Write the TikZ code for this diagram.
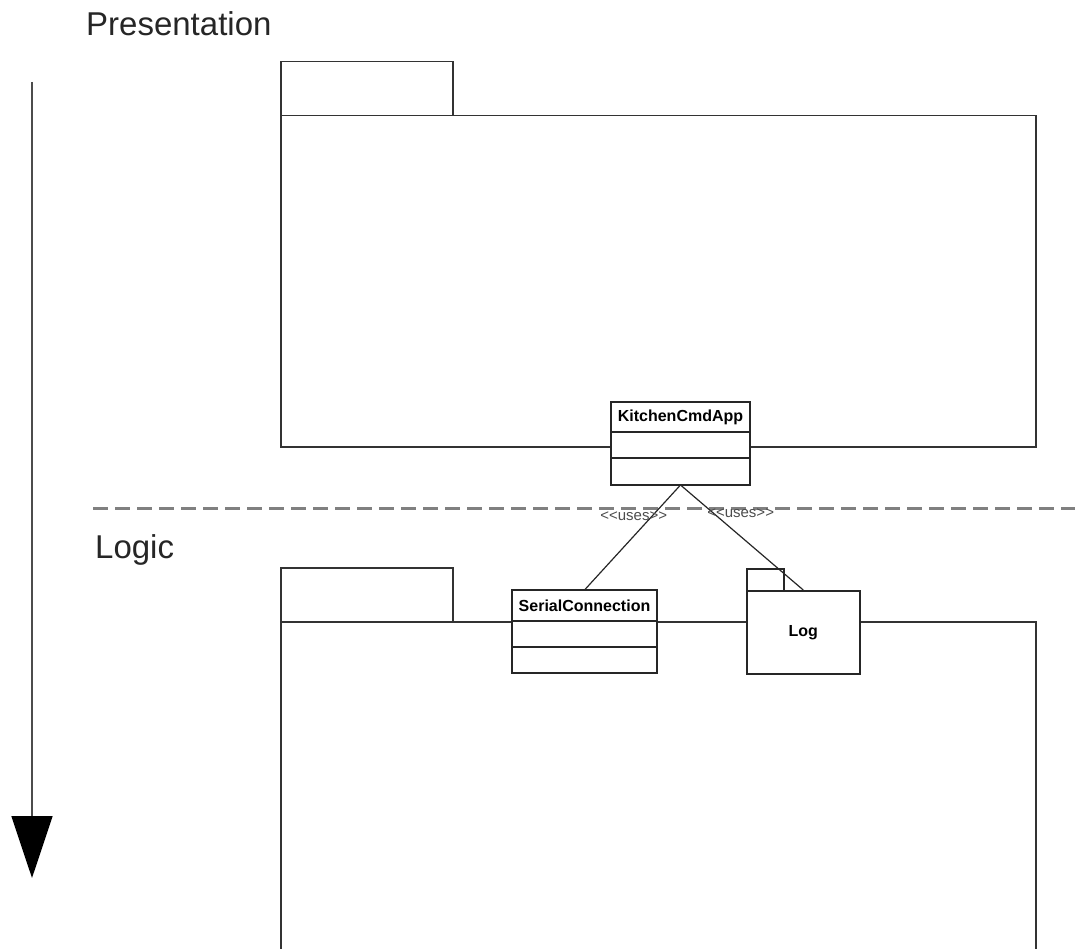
\documentclass[tikz,border=0pt]{standalone}
\usepackage{fontspec}
\setmainfont{Liberation Sans}
\usetikzlibrary{arrows.meta, positioning}

\begin{document}
\begin{tikzpicture}[
    x=1pt, y=-1pt,
    layer/.style={inner sep=0pt, font=\fontsize{33}{38}\selectfont, text=black!85},
    pkgtab/.style={rectangle, draw=black!80, line width=1.5pt, fill=white, anchor=north west, inner sep=0pt, minimum width=172pt, minimum height=54pt},
    pkgbody/.style={rectangle, draw=black!80, line width=1.5pt, fill=white, anchor=north west, inner sep=0pt, minimum width=755pt},
    clsname/.style={rectangle, draw=black!85, line width=1.5pt, fill=white, inner sep=0pt, outer sep=0pt, minimum height=30pt, font=\fontsize{16}{19}\selectfont\bfseries},
    clspart/.style={rectangle, draw=black!85, line width=1.5pt, fill=white, inner sep=0pt, outer sep=0pt, minimum height=26pt},
    uses/.style={inner sep=0pt, font=\fontsize{15}{18}\selectfont, text=black!70},
    link/.style={draw=black!85, line width=1.2pt}
]
    \useasboundingbox (0,0) rectangle (1075,949);

    % layer arrow on the left
    \coordinate (flowTop) at (32,82);
    \coordinate (flowEnd) at (32,878);
    \draw[black!70, line width=1.5pt, -{Triangle[length=62pt, width=41pt, color=black]}] (flowTop) -- (flowEnd);

    \node[layer, anchor=base west] (presLabel) at (86,36) {Presentation};
    \node[layer, anchor=base west] (logicLabel) at (95,558) {Logic};

    % layer boundary
    \coordinate (bndL) at (93,508);
    \coordinate (bndR) at (1075,508);
    \draw[black!50, line width=3pt, dash pattern=on 15pt off 7pt] (bndL) -- (bndR);

    % presentation package
    \node[pkgtab] (presTab) at (280,61) {};
    \node[pkgbody, minimum height=331pt] (presBody) at (280,115) {};

    % logic package
    \node[pkgtab] (logicTab) at (280,567) {};
    \node[pkgbody, minimum height=345pt] (logicBody) at (280,621) {};

    % KitchenCmdApp class
    \node[clsname, minimum width=139pt, anchor=north west] (kca) at (611,402) {KitchenCmdApp};
    \node[clspart, minimum width=139pt, below=0pt of kca] (kcaAttr) {};
    \node[clspart, minimum width=139pt, minimum height=27pt, below=0pt of kcaAttr] (kcaOps) {};

    % SerialConnection class
    \node[clsname, minimum width=145pt, minimum height=31pt, anchor=north west] (serial) at (512,590) {SerialConnection};
    \node[clspart, minimum width=145pt, below=0pt of serial] (serialAttr) {};
    \node[clspart, minimum width=145pt, below=0pt of serialAttr] (serialOps) {};

    % Log package
    \node[pkgtab, draw=black!85, minimum width=37pt, minimum height=22pt] (logTab) at (746,568) {};
    \node[pkgbody, draw=black!85, minimum width=113pt, minimum height=83pt, font=\fontsize{16}{19}\selectfont\bfseries] (log) at (746,590) {Log};

    % dependencies
    \draw[link] (kcaOps.south) -- node[uses, pos=0.3, xshift=-18pt] {<\kern0pt<uses>\kern0pt>} (serial.north);
    \draw[link] (kcaOps.south) -- node[uses, pos=0.27, xshift=27pt] {<\kern0pt<uses>\kern0pt>} (log.north);

\end{tikzpicture}
\end{document}
